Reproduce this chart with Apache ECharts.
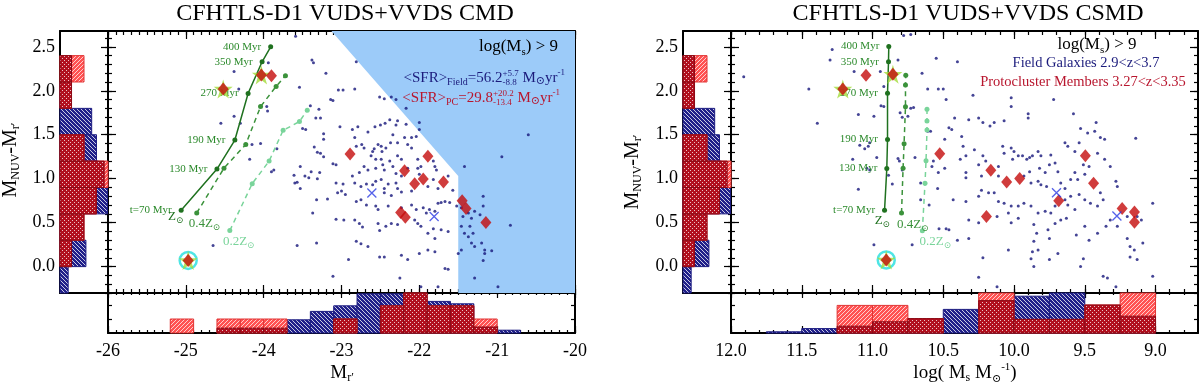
<!DOCTYPE html>
<html lang="en">
<head>
<meta charset="UTF-8">
<title>CFHTLS-D1 VUDS+VVDS CMD / CSMD</title>
<script src="https://cdn.jsdelivr.net/npm/echarts@6.0.0/dist/echarts.min.js"></script>
<style>html,body{margin:0;padding:0;background:#fff;}</style>
</head>
<body>
<div id="myChart" style="width:1200px;height:385px"></div>
<script>
// ---------------- data ----------------
var yTicks = [0, 0.5, 1, 1.5, 2, 2.5];
var magTicks = [-26, -25, -24, -23, -22, -21, -20];
var massTicks = [12, 11.5, 11, 10.5, 10, 9.5, 9];
var trackAges = ['t=70 Myr', '130 Myr', '190 Myr', '270 Myr', '350 Myr', '400 Myr'];

// left panel: M_r' vs colour
var fieldL = [
  [-23.59,2.62],[-23.94,2.32],[-24.38,2.22],[-24.32,2.02],[-23.38,2.35],[-23.36,2.32],[-23.20,2.20],[-23.54,2.04],[-23.04,2.01],[-22.98,2.01],
  [-23.14,1.90],[-23.11,1.89],[-24.38,1.71],[-24.55,1.63],[-24.30,1.63],[-23.96,1.82],[-23.95,1.77],[-23.40,1.83],[-23.29,1.79],[-23.33,1.69],
  [-23.27,1.69],[-23.02,1.59],[-23.50,1.57],[-23.46,1.56],[-23.23,1.51],[-23.23,1.45],[-24.15,1.39],[-24.04,1.40],[-23.83,1.34],[-23.35,1.36],
  [-23.31,1.30],[-23.27,1.29],[-23.23,1.25],[-23.11,1.17],[-23.07,1.16],[-23.53,1.14],[-23.39,1.08],[-23.28,1.07],[-23.61,1.04],[-23.60,0.95],
  [-23.57,0.96],[-23.47,1.03],[-23.42,1.01],[-23.31,1.00],[-23.07,0.95],[-22.98,0.94],[-23.00,0.86],[-22.95,0.82],[-23.05,0.84],[-23.32,0.76],
  [-23.18,0.77],[-24.18,1.22],[-23.90,1.08],[-23.87,1.10],[-23.53,0.89],[-23.37,0.61],[-23.07,0.54],[-22.97,0.53],[-24.65,0.24],[-23.57,0.24],
  [-23.32,0.27],[-23.11,-0.11],[-22.91,0.08],
  [-22.81,2.33],[-22.83,2.02],[-22.51,1.93],[-22.45,1.91],[-22.36,1.93],[-22.30,1.90],[-22.17,1.80],[-22.86,1.56],[-22.79,1.59],[-22.66,1.53],
  [-22.57,1.59],[-22.50,1.61],[-22.44,1.63],[-22.38,1.67],[-22.30,1.61],[-22.28,1.66],[-22.00,1.64],[-22.00,1.56],[-22.10,1.47],[-22.04,1.48],
  [-22.19,1.47],[-22.15,1.39],[-22.10,1.35],[-22.34,1.50],[-22.37,1.41],[-22.28,1.41],[-22.53,1.39],[-22.49,1.37],[-22.43,1.35],[-22.58,1.34],
  [-22.60,1.31],[-22.48,1.31],[-22.83,1.47],[-22.81,1.37],[-22.74,1.39],[-22.71,1.35],[-22.62,1.26],[-22.56,1.22],[-22.49,1.22],[-22.47,1.16],
  [-22.38,1.20],[-22.28,1.26],[-22.23,1.22],[-22.71,1.14],[-22.77,1.07],[-22.66,1.10],[-22.56,1.12],[-22.45,1.10],[-22.34,1.14],[-22.30,1.06],
  [-22.23,1.03],[-22.15,1.12],[-22.02,1.22],[-21.98,1.14],[-21.82,1.20],[-21.80,1.14],[-21.78,1.10],[-22.02,1.12],[-22.00,1.05],[-22.86,1.03],
  [-22.83,0.95],[-22.75,0.91],[-22.68,0.94],[-22.60,0.93],[-22.56,0.97],[-22.49,0.99],[-22.45,0.89],[-22.40,0.94],[-22.30,0.95],[-22.28,0.89],
  [-22.45,0.84],[-22.36,0.81],[-22.23,0.85],[-22.10,0.86],[-21.89,0.91],[-21.82,0.99],[-21.76,0.89],[-21.63,1.03],[-21.57,0.87],[-22.81,0.74],
  [-22.75,0.76],[-22.68,0.70],[-22.56,0.69],[-22.53,0.65],[-22.40,0.69],[-22.23,0.67],[-22.10,0.70],[-22.04,0.65],[-21.95,0.67],[-21.91,0.61],
  [-21.87,0.65],[-21.80,0.63],[-21.76,0.72],[-21.72,0.73],[-21.67,0.74],[-21.61,0.73],[-21.52,0.69],[-21.46,0.67],[-21.44,0.57],[-21.37,0.61],
  [-21.33,0.55],[-21.29,0.63],[-21.22,0.59],[-21.18,0.69],[-21.18,0.80],[-22.83,0.53],[-22.77,0.49],[-22.73,0.45],[-22.53,0.49],[-22.51,0.41],
  [-22.43,0.46],[-22.36,0.49],[-22.28,0.48],[-22.06,0.53],[-22.02,0.49],[-21.98,0.46],[-21.89,0.38],[-21.82,0.43],[-21.80,0.32],[-21.72,0.42],
  [-21.63,0.40],[-21.46,0.46],[-21.42,0.38],[-21.35,0.46],[-21.31,0.38],[-21.37,0.34],[-21.33,0.27],[-21.29,0.23],[-21.20,0.27],[-21.16,0.15],
  [-21.07,0.18],[-21.18,0.07],[-20.83,0.47],[-20.60,1.50],[-20.94,1.25],[-21.42,1.14],[-22.17,1.62],[-22.81,0.29],[-22.75,0.26],[-22.66,0.23],
  [-22.51,0.11],[-22.45,0.11],[-22.23,0.13],[-22.15,0.08],[-22.00,0.15],[-21.89,0.19],[-21.80,0.17],[-21.67,-0.02],[-21.63,-0.03],[-21.50,0.15],
  [-21.46,0.19],[-21.29,-0.13],[-21.16,0.19],[-22.25,-0.13],[-21.76,-0.23],[-20.99,-0.23],[-21.98,-0.23]
];
var protoL = [[-24.52,2.02],[-24.03,2.18],[-23.90,2.17],[-24.97,0.07],[-22.89,1.28],[-21.89,1.256],[-22.19,1.09],[-22.06,0.944],
  [-21.95,0.997],[-21.69,0.963],[-21.45,0.75],[-21.40,0.66],[-21.145,0.502],[-22.24,0.617],[-22.18,0.563]];
var starsL = [[-24.52,2.02],[-24.03,2.18],[-24.97,0.07]];
var ringL = [[-24.97,0.07]];
var medianL = [[-22.61,0.837],[-21.81,0.571]];
var trackSolarL = [[-25.06,0.64],[-24.60,1.11],[-24.37,1.44],[-24.20,1.97],[-24.02,2.33],[-23.91,2.50]];
var track04L = [[-24.86,0.61],[-24.51,1.12],[-24.23,1.39],[-24.04,1.82],[-23.84,2.05],[-23.72,2.17]];
var track02L = [[-24.435,0.41],[-24.147,0.944],[-23.93,1.20],[-23.75,1.55],[-23.54,1.65],[-23.44,1.78]];
var blueZone = [[-23.13,2.68],[-21.5,1.03],[-21.5,-0.3],[-20,-0.3],[-20,2.68]];

// right panel: stellar mass vs colour
var fieldR = [
  [11.91,2.16],[11.45,2.02],[11.39,1.63],[11.285,2.47],[11.30,2.35],[11.13,2.22],[10.945,2.22],[10.92,2.05],[10.82,2.35],[10.78,2.63],
  [10.73,2.64],[10.94,1.83],[10.92,1.82],[11.10,1.73],[10.99,1.71],[10.805,1.75],[10.79,1.70],[10.75,1.71],[10.73,1.80],[10.71,1.81],
  [10.65,2.20],[10.61,2.02],[10.535,2.02],[10.50,2.02],[10.48,1.90],[10.55,2.37],[10.61,1.54],[10.59,1.54],[10.49,1.45],[11.09,1.38],
  [11.055,1.34],[11.03,1.37],[11.02,1.41],[10.97,1.24],[11.14,1.22],[11.04,1.12],[11.02,1.10],[10.82,1.23],[10.81,1.20],[10.70,1.24],
  [10.887,1.04],[10.86,0.94],[10.79,1.10],[10.58,1.14],[10.57,1.20],[10.535,1.07],[10.66,0.95],[10.54,0.89],[10.49,1.12],[10.60,0.70],
  [10.66,0.76],[11.10,0.88],[10.99,0.25],[10.72,0.25],[10.48,0.43],
  [10.40,2.33],[10.29,1.95],[10.02,1.92],[10.02,1.82],[9.90,1.74],[9.90,1.69],[9.72,1.90],[9.58,1.74],[9.42,1.64],[9.53,1.57],
  [9.48,1.52],[9.39,1.47],[9.36,1.45],[9.14,1.46],[9.02,0.72],[10.42,1.69],[10.32,1.67],[10.25,1.69],[10.22,1.64],[10.17,1.60],
  [10.14,1.64],[10.07,1.66],[10.46,1.58],[10.44,1.56],[10.37,1.48],[10.36,1.37],[10.38,1.22],[10.34,1.26],[10.28,1.33],[10.22,1.26],
  [10.20,1.20],[10.25,1.16],[10.34,1.07],[10.34,1.01],[10.23,1.03],[10.11,1.03],[10.11,1.14],[10.08,1.37],[10.07,1.29],[10.02,1.35],
  [10.00,1.31],[9.97,1.26],[10.01,1.22],[9.94,1.26],[9.91,1.22],[9.89,1.24],[9.87,1.26],[9.83,1.31],[9.81,1.26],[9.74,1.27],
  [9.75,1.16],[9.71,1.18],[9.69,1.08],[9.82,1.12],[9.78,1.07],[9.89,1.08],[9.93,1.03],[9.88,0.95],[9.83,0.97],[9.81,0.93],
  [9.77,0.91],[9.67,0.95],[9.64,0.89],[9.60,0.99],[9.57,1.07],[9.55,0.99],[9.50,1.05],[9.51,1.16],[9.47,1.14],[9.54,1.41],
  [9.43,1.54],[9.64,1.41],[9.62,1.37],[9.57,1.31],[9.41,1.29],[9.36,1.22],[9.32,1.14],[9.28,0.97],[9.27,0.91],[9.39,0.84],
  [9.37,0.76],[9.41,0.69],[9.46,0.72],[9.50,0.76],[9.54,0.82],[9.60,0.80],[9.64,0.76],[9.62,0.70],[9.57,0.65],[9.71,0.69],
  [9.74,0.61],[9.78,0.63],[9.83,0.61],[9.88,0.69],[9.93,0.72],[9.97,0.69],[10.02,0.69],[10.07,0.72],[10.11,0.74],[10.14,0.84],
  [10.18,0.84],[10.23,0.87],[10.25,0.80],[10.34,0.74],[10.43,0.76],[10.53,0.43],[10.46,0.42],[10.40,0.30],[10.32,0.32],[10.25,0.50],
  [10.12,0.57],[10.04,0.61],[10.02,0.50],[9.97,0.55],[9.86,0.48],[9.84,0.38],[9.86,0.29],[9.76,0.42],[9.75,0.32],[9.71,0.49],
  [9.67,0.53],[9.63,0.55],[9.56,0.36],[9.50,0.46],[9.47,0.30],[9.41,0.38],[9.35,0.46],[9.32,0.53],[9.27,0.46],[9.20,0.57],
  [9.13,0.57],[9.10,0.53],[9.20,0.32],[9.18,0.23],[9.15,0.19],[9.18,0.11],[9.13,0.08],[9.09,0.27],[9.87,0.17],[9.83,0.19],
  [9.88,0.09],[9.86,0.00],[9.75,0.08],[9.69,0.15],[9.53,0.00],[9.51,0.09],[9.37,-0.11],[9.34,-0.13],[9.28,-0.23],[9.02,-0.11],
  [10.04,0.19],[10.22,0.10],[10.25,-0.12],[10.12,-0.23],[10.32,0.53]
];
var protoR = [[11.046,2.177],[10.856,2.188],[11.21,2.02],[10.903,0.076],[10.525,1.283],[10.164,1.096],[10.052,0.963],[9.96,1.001],
  [10.195,0.571],[9.496,1.26],[9.438,0.948],[9.684,0.75],[9.236,0.662],[9.149,0.62],[9.149,0.506]];
var starsR = [[10.856,2.188],[11.21,2.02],[10.903,0.076]];
var ringR = [[10.903,0.076]];
var medianR = [[9.70,0.841],[9.273,0.575]];
var trackSolarR = [[10.915,0.64],[10.899,1.115],[10.894,1.446],[10.894,1.971],[10.887,2.33],[10.885,2.504]];
var track04R = [[10.795,0.609],[10.784,1.12],[10.777,1.397],[10.767,1.819],[10.767,2.066],[10.765,2.177]];
var track02R = [[10.648,0.407],[10.629,0.948],[10.622,1.203],[10.615,1.553],[10.615,1.655],[10.615,1.79]];

// histograms (normalised heights), bins given by lower edge
var colourBins = [-0.3, 0.0, 0.3, 0.6, 0.9, 1.2, 1.5, 1.8, 2.1];
var colourField = [0.17, 0.54, 0.30, 0.99, 0.80, 0.76, 0.66, 0.10, 0.0];
var colourProto = [0.0, 0.24, 0.50, 0.76, 0.92, 0.50, 0.0, 0.24, 0.24];
var colourProtoAlt = [0.0, 0.24, 0.50, 0.76, 1.0, 0.50, 0.0, 0.24, 0.50];

var magBins = [-25.2, -24.9, -24.6, -24.3, -24.0, -23.7, -23.4, -23.1, -22.8, -22.5, -22.2, -21.9, -21.6, -21.3, -21.0];
var magField = [0, 0, 0, 0, 0, 0.33, 0.54, 0.68, 0.98, 0.98, 0.90, 0.79, 0.73, 0.10, 0.07];
var magProto = [0, 0, 0.12, 0.12, 0.12, 0, 0, 0.35, 0, 0.68, 1.0, 0.68, 0.68, 0.15, 0];
var magProtoAlt = [0.35, 0, 0.35, 0.35, 0.35, 0, 0, 0.35, 0, 0.68, 1.0, 0.68, 0.68, 0.35, 0];

var massBins = [11.5, 11.25, 11.0, 10.75, 10.5, 10.25, 10.0, 9.75, 9.5, 9.25, 9.0];
var massField = [0.03, 0.11, 0.10, 0.15, 0.20, 0.59, 0.70, 0.92, 1.0, 0.60, 0.30];
var massProto = [0, 0, 0.17, 0.28, 0.36, 0, 0.81, 0.34, 0.34, 0.70, 0.42];
var massProtoAlt = [0, 0, 0.69, 0.69, 0.36, 0, 1.0, 0.34, 0.34, 0.70, 1.0];

// ---------------- helpers ----------------
var SERIF = '"Liberation Serif", "DejaVu Serif", "DejaVu Sans", serif';
var DARK_GREEN = '#1f711f', MID_GREEN = '#3b923b', LIGHT_GREEN = '#79d49a';
var NAVY = '#1b1b7c', CRIMSON = '#b8162e';

function steps(a, b, st) {
    var out = [];
    for (var v = a; v <= b + 1e-9; v += st) out.push(Math.round(v * 100) / 100);
    return out;
}
var yMinor = steps(-0.3, 2.6, 0.1);
var magMinor = steps(-26, -20, 0.1);
var massMinor = steps(8.8, 12, 0.1);

function pattern(bg, size, draw) {
    var c = document.createElement('canvas');
    c.width = c.height = size;
    var g = c.getContext('2d');
    g.fillStyle = bg;
    g.fillRect(0, 0, size, size);
    draw(g, size);
    return {image: c, repeat: 'repeat'};
}
var blueHatch = pattern('#20208a', 4, function (g, s) {
    g.strokeStyle = 'rgba(255,255,255,0.85)'; g.lineWidth = 0.9;
    [-s, 0, s].forEach(function (o) { g.beginPath(); g.moveTo(o, 0); g.lineTo(o + s, s); g.stroke(); });
});
var redHatch = pattern('#ff5252', 4, function (g, s) {
    g.strokeStyle = 'rgba(255,255,255,0.8)'; g.lineWidth = 0.9;
    [-s, 0, s].forEach(function (o) { g.beginPath(); g.moveTo(o, s); g.lineTo(o + s, 0); g.stroke(); });
});
var redDots = pattern('#b10f1e', 4, function (g) {
    g.fillStyle = 'rgba(255,255,255,0.75)';
    g.fillRect(0, 0, 1, 1); g.fillRect(2, 2, 1, 1);
});

var xAxes = [], yAxes = [];
function axis(grid, pos, range, o) {
    o = o || {};
    return {
        type: 'value', gridIndex: grid, position: pos, min: range[0], max: range[1], inverse: !!o.inverse,
        axisLine: {show: o.line !== false, onZero: false, lineStyle: {color: '#000', width: 2}},
        axisTick: {show: !!o.ticks, inside: true, length: o.len || 8, customValues: o.ticks, lineStyle: {color: '#000', width: 1.2}},
        minorTick: {show: false},
        axisLabel: o.labels ? {show: true, customValues: o.labels, formatter: o.fmt, fontFamily: SERIF, fontSize: 18,
            color: '#000', margin: o.margin || 8} : {show: false},
        splitLine: {show: false},
        splitArea: {show: false}
    };
}

function buildAxes(g0, xr, xMajor, xMinor, inv, fmtX) {
    var yr = [-0.3, 2.68], P = {};
    P.mx = xAxes.push(axis(g0, 'bottom', xr, {ticks: xMajor, len: 8, inverse: inv})) - 1;
    xAxes.push(axis(g0, 'bottom', xr, {ticks: xMinor, len: 4, line: false, inverse: inv}));
    xAxes.push(axis(g0, 'top', xr, {ticks: xMajor, len: 8, inverse: inv}));
    xAxes.push(axis(g0, 'top', xr, {ticks: xMinor, len: 4, line: false, inverse: inv}));
    P.my = yAxes.push(axis(g0, 'left', yr, {ticks: yTicks, len: 8})) - 1;
    yAxes.push(axis(g0, 'left', yr, {ticks: yMinor, len: 4, line: false}));
    yAxes.push(axis(g0, 'right', yr, {ticks: yTicks, len: 8}));
    yAxes.push(axis(g0, 'right', yr, {ticks: yMinor, len: 4, line: false}));

    P.bx = xAxes.push(axis(g0 + 1, 'bottom', xr, {ticks: xMajor, len: 7, inverse: inv, labels: xMajor, fmt: fmtX, margin: 9})) - 1;
    xAxes.push(axis(g0 + 1, 'bottom', xr, {ticks: xMinor, len: 3, line: false, inverse: inv}));
    xAxes.push(axis(g0 + 1, 'top', xr, {ticks: xMajor, len: 5, inverse: inv}));
    xAxes.push(axis(g0 + 1, 'top', xr, {ticks: xMinor, len: 2, line: false, inverse: inv}));
    P.by = yAxes.push(axis(g0 + 1, 'left', [0, 1], {ticks: [0.35, 0.7], len: 4})) - 1;
    yAxes.push(axis(g0 + 1, 'right', [0, 1], {ticks: [0.35, 0.7], len: 4}));

    P.sx = xAxes.push(axis(g0 + 2, 'bottom', [0, 1], {})) - 1;
    xAxes.push(axis(g0 + 2, 'top', [0, 1], {}));
    P.sy = yAxes.push(axis(g0 + 2, 'left', yr, {labels: yTicks, fmt: function (v) { return (+v).toFixed(1); }, margin: 5})) - 1;
    yAxes.push(axis(g0 + 2, 'right', yr, {ticks: yTicks, len: 7}));
    yAxes.push(axis(g0 + 2, 'right', yr, {ticks: yMinor, len: 3, line: false}));
    return P;
}

function histSeries(xi, yi, bins, w, vals, horizontal, fill, stroke, z) {
    return {
        type: 'custom', xAxisIndex: xi, yAxisIndex: yi, z: z, silent: true,
        data: bins.map(function (b, i) { return [b, b + w, vals[i]]; }),
        renderItem: function (params, api) {
            var lo = api.value(0), hi = api.value(1), v = api.value(2);
            if (!v) return null;
            var p0 = horizontal ? api.coord([0, lo]) : api.coord([lo, 0]);
            var p1 = horizontal ? api.coord([v, hi]) : api.coord([hi, v]);
            return {
                type: 'rect',
                shape: {x: Math.min(p0[0], p1[0]), y: Math.min(p0[1], p1[1]),
                    width: Math.abs(p1[0] - p0[0]), height: Math.abs(p1[1] - p0[1])},
                style: {fill: fill, stroke: stroke, lineWidth: 1}
            };
        }
    };
}

var STAR = 'path://M50,0L61,35L98,35L68,57L79,91L50,70L21,91L32,57L2,35L39,35Z';
var CROSS = 'path://M0,0L10,10M10,0L0,10';

function panelSeries(P, d) {
    var xy = function (o) { o.xAxisIndex = P.mx; o.yAxisIndex = P.my; o.silent = true; return o; };
    var s = [];
    if (d.zone) {
        s.push(xy({type: 'custom', z: 1, data: [[0, 0]], renderItem: function (params, api) {
            return {type: 'polygon', shape: {points: d.zone.map(function (p) { return api.coord(p); })},
                style: {fill: '#9ccbf9'}};
        }}));
    }
    s.push(xy({type: 'scatter', data: d.field, symbol: 'circle', symbolSize: 3, itemStyle: {color: '#15157a'}, z: 2}));
    var trk = function (data, color, type, lab) {
        var o = {type: 'line', data: data, symbol: 'circle', symbolSize: 5, showAllSymbol: true, z: 3,
            lineStyle: {color: color, width: 1.5, type: type}, itemStyle: {color: color}};
        if (lab) o.label = {show: true, position: 'left', distance: 7, fontFamily: SERIF, fontSize: 11, color: '#2c8a2c',
            formatter: function (p) { return trackAges[p.dataIndex]; }};
        return xy(o);
    };
    s.push(trk(d.t02, LIGHT_GREEN, [5, 4]));
    s.push(trk(d.t04, MID_GREEN, [5, 4]));
    s.push(trk(d.t10, DARK_GREEN, 'solid', true));
    s.push(xy({type: 'scatter', data: d.ring, symbol: 'circle', symbolSize: 17, z: 4,
        itemStyle: {color: 'rgba(0,0,0,0)', borderColor: '#22dede', borderWidth: 2.5}}));
    s.push(xy({type: 'scatter', data: d.stars, symbol: STAR, symbolSize: 19, z: 4, itemStyle: {color: '#a2dc3a'}}));
    s.push(xy({type: 'scatter', data: d.proto, symbol: 'diamond', symbolSize: [11, 13], z: 5, itemStyle: {color: '#c40b0b'}}));
    s.push(xy({type: 'scatter', data: d.median, symbol: CROSS, symbolSize: 9, z: 5,
        itemStyle: {color: 'rgba(0,0,0,0)', borderColor: '#2a3ae4', borderWidth: 1.3}}));

    s.push(histSeries(P.bx, P.by, d.bBins, d.bw, d.bField, false, blueHatch, '#1b1b80', 2));
    s.push(histSeries(P.bx, P.by, d.bBins, d.bw, d.bAlt, false, redHatch, '#e03434', 3));
    s.push(histSeries(P.bx, P.by, d.bBins, d.bw, d.bProto, false, redDots, '#8c0a16', 4));
    s.push(histSeries(P.sx, P.sy, colourBins, 0.3, colourField, true, blueHatch, '#1b1b80', 2));
    s.push(histSeries(P.sx, P.sy, colourBins, 0.3, colourProtoAlt, true, redHatch, '#e03434', 3));
    s.push(histSeries(P.sx, P.sy, colourBins, 0.3, colourProto, true, redDots, '#8c0a16', 4));
    return s;
}

// ---------------- chart ----------------
var grids = [
    {left: 108, top: 31, width: 467, height: 262},
    {left: 108, top: 293, width: 467, height: 40},
    {left: 60, top: 31, width: 48, height: 262},
    {left: 731, top: 31, width: 467, height: 262},
    {left: 731, top: 293, width: 467, height: 40},
    {left: 683, top: 31, width: 48, height: 262}
].map(function (g) { g.containLabel = false; g.outerBoundsMode = 'none'; return g; });

var PL = buildAxes(0, [-26, -20], magTicks, magMinor, false, function (v) { return String(Math.round(v)); });
var PR = buildAxes(3, [8.7, 12], massTicks, massMinor, true, function (v) { return (+v).toFixed(1); });

var seriesL = panelSeries(PL, {zone: blueZone, field: fieldL, proto: protoL, stars: starsL, ring: ringL, median: medianL,
    t10: trackSolarL, t04: track04L, t02: track02L,
    bBins: magBins, bw: 0.3, bField: magField, bProto: magProto, bAlt: magProtoAlt});
var seriesR = panelSeries(PR, {field: fieldR, proto: protoR, stars: starsR, ring: ringR, median: medianR,
    t10: trackSolarR, t04: track04R, t02: track02R,
    bBins: massBins, bw: 0.25, bField: massField, bProto: massProto, bAlt: massProtoAlt});

var myChart = echarts.init(document.getElementById('myChart'));
myChart.setOption({
    animation: false,
    backgroundColor: '#fff',
    grid: grids,
    xAxis: xAxes,
    yAxis: yAxes,
    series: seriesL.concat(seriesR)
});

// ---------------- text with sub/superscripts ----------------
var mctx = document.createElement('canvas').getContext('2d');
function mathText(parts, x, y, align, color, size, rot) {
    var cx = 0, kids = [];
    parts.forEach(function (p) {
        var s = p.s || size;
        mctx.font = s + 'px ' + SERIF;
        if (p.up) {
            kids.push({t: p.up, x: cx, y: p.upDy, s: s});
            kids.push({t: p.dn, x: cx, y: p.dnDy, s: s});
            cx += Math.max(mctx.measureText(p.up).width, mctx.measureText(p.dn).width);
        } else {
            kids.push({t: p.t, x: cx, y: p.dy || 0, s: s});
            cx += mctx.measureText(p.t).width;
        }
    });
    var shift = align === 'right' ? -cx : (align === 'center' ? -cx / 2 : 0);
    return {
        type: 'group', x: x, y: y, rotation: rot || 0, silent: true,
        children: kids.map(function (k) {
            return {type: 'text', z: 100, x: k.x + shift, y: k.y - 0.34 * k.s,
                style: {text: k.t, font: k.s + 'px ' + SERIF, fill: color, textAlign: 'left', textVerticalAlign: 'middle'}};
        })
    };
}

var yName = [{t: 'M'}, {t: 'NUV', s: 12, dy: 2}, {t: '-M'}, {t: 'r\u2032', s: 12, dy: 2}];
var logMs = [{t: 'log(M'}, {t: 's', s: 11, dy: 4}, {t: ') > 9'}];
var sun = '\u2299';
function zLabel(txt) { return [{t: txt}, {t: sun, s: 9, dy: 3}]; }
var zLabelsL = [['Z', -25.13, 0.58, DARK_GREEN], ['0.4Z', -24.76, 0.50, MID_GREEN], ['0.2Z', -24.32, 0.29, LIGHT_GREEN]];
var zLabelsR = [['Z', 10.93, 0.533, DARK_GREEN], ['0.4Z', 10.714, 0.49, MID_GREEN], ['0.2Z', 10.556, 0.29, LIGHT_GREEN]];

var graphics = [
    mathText([{t: 'CFHTLS-D1 VUDS+VVDS CMD'}], 345, 22, 'center', '#000', 24),
    mathText([{t: 'CFHTLS-D1 VUDS+VVDS CSMD'}], 968, 22, 'center', '#000', 24),
    mathText(yName, 18, 160, 'center', '#000', 20, Math.PI / 2),
    mathText(yName, 640, 172, 'center', '#000', 20, Math.PI / 2),
    mathText([{t: 'M'}, {t: 'r\u2032', s: 12, dy: 3}], 342, 379, 'center', '#000', 19),
    mathText([{t: 'log( M'}, {t: 's', s: 12, dy: 3}, {t: ' M'}, {t: sun, s: 11, dy: 4}, {t: '-1', s: 11, dy: -8}, {t: ')'}],
        965, 379, 'center', '#000', 19),
    mathText(logMs, 558, 52, 'right', '#000', 17),
    mathText([{t: '<SFR>'}, {t: 'Field', s: 10, dy: 3}, {t: '=56.2'}, {up: '+5.7', dn: '-8.8', s: 9, upDy: -6, dnDy: 3},
        {t: ' M'}, {t: sun, s: 11, dy: 2}, {t: 'yr'}, {t: '-1', s: 9, dy: -7}], 565, 83, 'right', NAVY, 15),
    mathText([{t: '<SFR>'}, {t: 'PC', s: 10, dy: 3}, {t: '=29.8'}, {up: '+20.2', dn: '-13.4', s: 9, upDy: -6, dnDy: 3},
        {t: ' M'}, {t: sun, s: 11, dy: 2}, {t: 'yr'}, {t: '-1', s: 9, dy: -7}], 560, 103, 'right', CRIMSON, 15),
    mathText(logMs, 1097, 50, 'center', '#000', 17),
    mathText([{t: 'Field Galaxies 2.9<z<3.7'}], 1086, 68, 'center', NAVY, 14.5),
    mathText([{t: 'Protocluster Members 3.27<z<3.35'}], 1083, 87, 'center', CRIMSON, 14.5)
];
function addZLabels(list, seriesIndex) {
    list.forEach(function (z) {
        var p = myChart.convertToPixel({seriesIndex: seriesIndex}, [z[1], z[2]]);
        graphics.push(mathText(zLabel(z[0]), p[0], p[1] + 5, 'center', z[3], 13));
    });
}
addZLabels(zLabelsL, 1);
addZLabels(zLabelsR, seriesL.length);
myChart.setOption({graphic: graphics});
</script>
</body>
</html>
